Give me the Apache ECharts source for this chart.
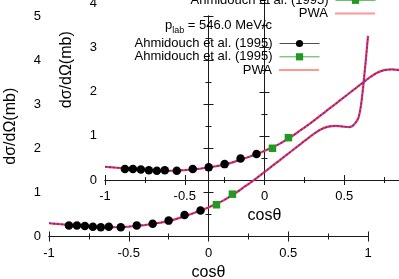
<!DOCTYPE html>
<html><head><meta charset="utf-8">
<script src="https://cdn.jsdelivr.net/npm/echarts@6/dist/echarts.min.js"></script>
<style>html,body{margin:0;padding:0;background:#fff}#c{width:399px;height:279px}</style>
</head><body><div id="c"></div>
<script>
// ---- data (cos theta, dsigma/dOmega in mb) ----
const cosCircles = [-0.875, -0.825, -0.775, -0.725, -0.675, -0.625, -0.55, -0.45, -0.35, -0.25, -0.15, -0.05];
const sigCircles = [0.25, 0.25, 0.24, 0.22, 0.21, 0.22, 0.21, 0.25, 0.29, 0.36, 0.49, 0.59];
const cosSquares = [0.05, 0.15];
const sigSquares = [0.72, 0.96];
const cosPWA = [-1.0, -0.95, -0.9, -0.85, -0.8, -0.75, -0.7, -0.65, -0.6, -0.55, -0.5, -0.45, -0.4, -0.35, -0.3, -0.25, -0.2, -0.15, -0.1, -0.05, 0.0, 0.05, 0.1, 0.15, 0.2, 0.25, 0.3, 0.35, 0.4, 0.45, 0.5, 0.55, 0.6, 0.65, 0.7, 0.75, 0.8, 0.85, 0.88, 0.9, 0.92, 0.94, 0.955, 0.97, 0.985, 1.0];
const sigPWA = [0.30, 0.285, 0.27, 0.255, 0.24, 0.23, 0.22, 0.215, 0.21, 0.215, 0.225, 0.24, 0.26, 0.285, 0.315, 0.35, 0.40, 0.46, 0.52, 0.59, 0.66, 0.74, 0.83, 0.94, 1.06, 1.19, 1.32, 1.46, 1.60, 1.74, 1.88, 2.02, 2.16, 2.30, 2.42, 2.49, 2.51, 2.49, 2.48, 2.50, 2.57, 2.69, 2.95, 3.4, 3.95, 4.55];
const labels = { exp1: 'Ahmidouch et al. (1995)', exp2: 'Ahmidouch et al. (1995)', pwa: 'PWA' };

const zip = (a, b) => a.map((v, i) => [v, b[i]]);
const FONT = 'Liberation Sans, Arial, sans-serif';
const AX = '#1a1a1a';

function xAxes(grid) {
  return [
    { gridIndex: grid, type: 'value', min: -1, max: 1, interval: 0.5, position: 'bottom',
      axisLine: { lineStyle: { color: AX, width: 1 } },
      axisTick: { inside: true, length: 5, lineStyle: { color: AX } },
      minorTick: { show: true, splitNumber: 2, length: 3, lineStyle: { color: AX } },
      splitLine: { show: false }, minorSplitLine: { show: false },
      axisLabel: { color: '#000', fontSize: 13, fontFamily: FONT, margin: 10 },
      name: 'cosθ', nameLocation: 'middle', nameGap: 24,
      nameTextStyle: { color: '#000', fontSize: 16, fontFamily: FONT } },
    { gridIndex: grid, type: 'value', min: -1, max: 1, interval: 0.5, position: 'top',
      axisLine: { lineStyle: { color: AX, width: 1 } },
      axisTick: { inside: true, length: 5, lineStyle: { color: AX } },
      minorTick: { show: true, splitNumber: 2, length: 3, lineStyle: { color: AX } },
      splitLine: { show: false }, axisLabel: { show: false } }
  ];
}
function yAxes(grid) {
  return [
    { gridIndex: grid, type: 'value', min: 0, max: 5, interval: 1, position: 'left',
      axisLine: { show: true, lineStyle: { color: AX, width: 1 } },
      axisTick: { show: true, inside: true, length: 5, lineStyle: { color: AX } },
      minorTick: { show: true, splitNumber: 2, length: 3, lineStyle: { color: AX } },
      splitLine: { show: false }, minorSplitLine: { show: false },
      axisLabel: { color: '#000', fontSize: 13, fontFamily: FONT, margin: 8 },
      name: 'dσ/dΩ(mb)', nameLocation: 'middle', nameGap: 30, nameRotate: 90,
      nameTextStyle: { color: '#000', fontSize: 16, fontFamily: FONT } },
    { gridIndex: grid, type: 'value', min: 0, max: 5, interval: 1, position: 'right',
      axisLine: { show: true, lineStyle: { color: AX, width: 1 } },
      axisTick: { show: true, inside: true, length: 5, lineStyle: { color: AX } },
      minorTick: { show: true, splitNumber: 2, length: 3, lineStyle: { color: AX } },
      splitLine: { show: false }, axisLabel: { show: false } }
  ];
}
function seriesFor(xi, yi) {
  return [
    { name: 'pwa', type: 'line', xAxisIndex: xi, yAxisIndex: yi, data: zip(cosPWA, sigPWA),
      showSymbol: false, symbol: 'none', smooth: 0.2,
      lineStyle: { color: '#ff3030', width: 2.2 }, itemStyle: { color: '#ff3030' }, z: 2 },
    { name: 'pwaBlue', type: 'line', xAxisIndex: xi, yAxisIndex: yi, data: zip(cosPWA, sigPWA),
      showSymbol: false, symbol: 'none', smooth: 0.2,
      lineStyle: { color: '#3030ff', width: 1.3, type: [2, 2] }, z: 3 },
    { name: 'exp1', type: 'line', xAxisIndex: xi, yAxisIndex: yi, data: zip(cosCircles, sigCircles),
      symbol: 'circle', symbolSize: 8.5, showSymbol: true,
      itemStyle: { color: '#000' }, lineStyle: { color: '#000', width: 1, opacity: 0 }, z: 5 },
    { name: 'exp2', type: 'line', xAxisIndex: xi, yAxisIndex: yi, data: zip(cosSquares, sigSquares),
      symbol: 'rect', symbolSize: 7.5, showSymbol: true,
      itemStyle: { color: '#229922' }, lineStyle: { color: '#229922', width: 1, opacity: 0 }, z: 5 }
  ];
}
function legendItem(name, right, centerY, lineColor) {
  const item = name === 'pwa' ? { name: name, itemStyle: { opacity: 0, borderWidth: 0 } } : { name: name };
  return { data: [item], orient: 'vertical', align: 'right', right: right, top: centerY - 7,
    padding: 0, itemWidth: 40, itemHeight: 9, selectedMode: false,
    formatter: n => labels[n],
    textStyle: { color: '#000', fontSize: 13, fontFamily: FONT, lineHeight: 14, padding: [0, 2, 0, 0] },
    lineStyle: { color: lineColor, width: name === 'pwa' ? 2 : 1, opacity: name === 'pwa' ? 0.5 : 0.8 } };
}

const DX = 56, DY = -56.5;
const option = {
  animation: false,
  backgroundColor: '#fff',
  grid: [
    { left: 49, top: 16, width: 319, height: 220.5, outerBoundsMode: 'none', containLabel: false },
    { left: 49 + DX, top: 16 + DY, width: 319, height: 220.5, outerBoundsMode: 'none', containLabel: false }
  ],
  xAxis: [...xAxes(0), ...xAxes(1)],
  yAxis: [...yAxes(0), ...yAxes(1)],
  title: [{
    text: '{a|p}{b|lab}{a| = 546.0 MeV/c}', right: 127, top: 19, padding: 0,
    textStyle: { fontWeight: 'normal', rich: {
      a: { fontSize: 13, fontFamily: FONT, color: '#000', fontWeight: 'normal', lineHeight: 16, verticalAlign: 'top' },
      b: { fontSize: 9, fontFamily: FONT, color: '#000', fontWeight: 'normal', lineHeight: 16, verticalAlign: 'bottom', padding: [5, 0, 0, 0] }
    } }
  }],
  legend: [
    legendItem('exp1', 79, 43.5, '#222'),
    legendItem('exp2', 79, 56.8, '#229922'),
    legendItem('pwa', 79, 70, '#ff3030'),
    legendItem('exp2', 79 - DX, 56.8 + DY, '#229922'),
    legendItem('pwa', 79 - DX, 70 + DY, '#ff3030')
  ],
  series: [...seriesFor(0, 0), ...seriesFor(2, 2)]
};
const chart = echarts.init(document.getElementById('c'), null, { renderer: 'canvas' });
chart.setOption(option);
</script></body></html>
